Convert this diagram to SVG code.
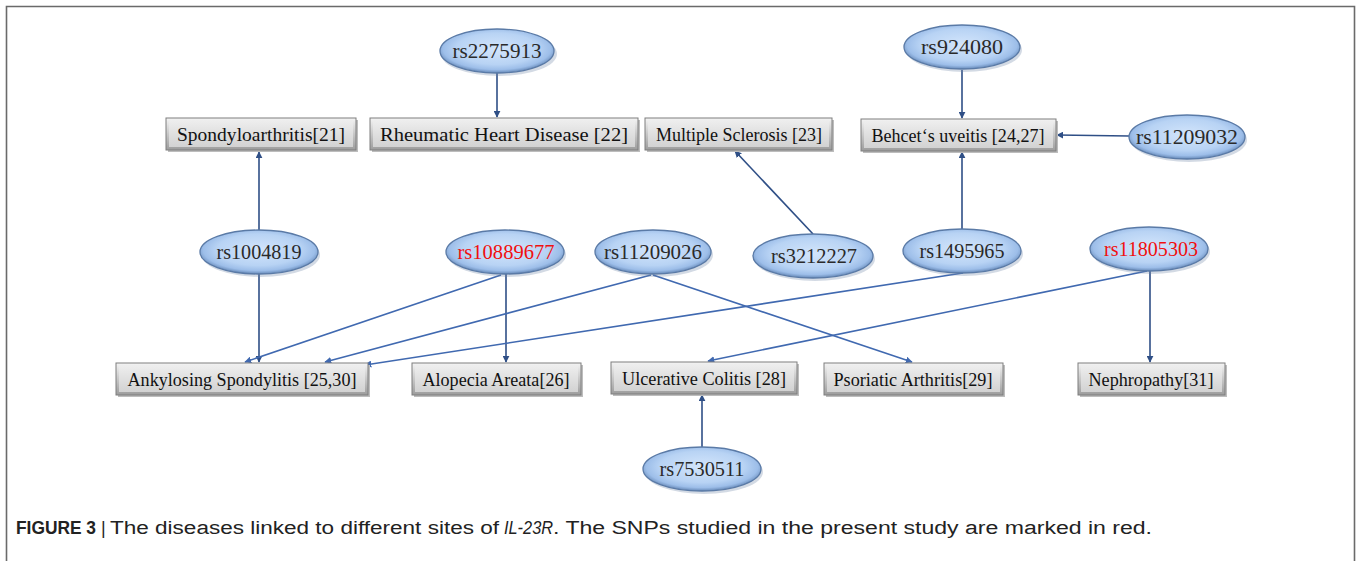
<svg xmlns="http://www.w3.org/2000/svg" width="1357" height="561" viewBox="0 0 1357 561">
<defs>
<radialGradient id="eg" cx="50%" cy="45%" r="55%">
<stop offset="0" stop-color="#d3e5fb"/>
<stop offset="0.65" stop-color="#b8d3f4"/>
<stop offset="0.86" stop-color="#9dbee9"/>
<stop offset="1" stop-color="#6689b8"/>
</radialGradient>
<linearGradient id="bo" x1="0" y1="0" x2="0" y2="1">
<stop offset="0" stop-color="#f4f4f4"/>
<stop offset="1" stop-color="#9c9c9c"/>
</linearGradient>
<linearGradient id="bi" x1="0" y1="0" x2="0" y2="1">
<stop offset="0" stop-color="#ededed"/>
<stop offset="1" stop-color="#d2d2d2"/>
</linearGradient>
<marker id="ah" viewBox="0 0 10 10" refX="9" refY="5" markerWidth="7" markerHeight="7" markerUnits="userSpaceOnUse" orient="auto">
<path d="M0,0 L10,5 L0,10 z" fill="#2f4f86"/>
</marker>
<marker id="ah2" viewBox="0 0 10 10" refX="9" refY="5" markerWidth="7" markerHeight="7" markerUnits="userSpaceOnUse" orient="auto">
<path d="M0,0 L10,5 L0,10 z" fill="#4069b0"/>
</marker>
</defs>
<style>
.snp ellipse.sh{fill:#6d86a6;opacity:0.3}
.snp ellipse.m{fill:url(#eg);stroke:#5a7aa6;stroke-width:1.3}
.snp text{font-family:"Liberation Serif","Times New Roman",serif;font-size:21px;fill:#2a2a2a;text-anchor:middle}
.snp text.red{fill:#f01010}
.dis rect.o{fill:url(#bo);stroke:#7e7e7e;stroke-width:1}
.dis rect.i{fill:url(#bi);stroke:none}
.dis rect.sh{fill:#bdbdbd}
.dis text{font-family:"Liberation Serif","Times New Roman",serif;font-size:19px;fill:#111;text-anchor:middle}
.v{stroke:#2f4f86;stroke-width:1.6;fill:none;marker-end:url(#ah)}
.s{stroke:#4069b0;stroke-width:1.6;fill:none;marker-end:url(#ah2)}
.cap{font-family:"Liberation Sans",Arial,sans-serif;font-size:18px;fill:#222}
</style>
<rect x="0" y="0" width="1357" height="561" fill="#ffffff"/>
<path d="M6.5,561 V6.5 H1354.5 V561" fill="none" stroke="#6a6a6a" stroke-width="1.6"/>

<g id="connectors">
<line class="v" x1="497" y1="73" x2="497" y2="117"/>
<line class="v" x1="962" y1="70" x2="962" y2="118"/>
<line class="v" x1="1129" y1="136" x2="1057" y2="135"/>
<line class="v" x1="259" y1="230" x2="259" y2="152"/>
<line class="v" x1="259" y1="274" x2="259" y2="362"/>
<line class="v" x1="506" y1="274" x2="506" y2="362"/>
<line class="s" x1="501" y1="275" x2="245" y2="362"/>
<line class="s" x1="651" y1="275" x2="325" y2="362"/>
<line class="s" x1="653" y1="275" x2="912" y2="362"/>
<line class="v" x1="813" y1="234" x2="735" y2="151"/>
<line class="v" x1="962" y1="229" x2="962" y2="152"/>
<line class="s" x1="963" y1="273" x2="365" y2="365"/>
<line class="s" x1="1147" y1="271" x2="708" y2="361"/>
<line class="v" x1="1150" y1="271" x2="1150" y2="362"/>
<line class="v" x1="702" y1="447" x2="702" y2="395"/>
</g>

<g id="rs2275913" class="snp"><ellipse class="sh" cx="499" cy="54" rx="58" ry="22"/><ellipse class="m" cx="497" cy="51" rx="57" ry="22"/><text x="497" y="58" textLength="89" lengthAdjust="spacingAndGlyphs">rs2275913</text></g>
<g id="rs924080" class="snp"><ellipse class="sh" cx="964" cy="50" rx="58" ry="22"/><ellipse class="m" cx="962" cy="47" rx="58" ry="22"/><text x="962" y="54" textLength="82" lengthAdjust="spacingAndGlyphs">rs924080</text></g>
<g id="rs11209032" class="snp"><ellipse class="sh" cx="1189" cy="140" rx="58" ry="22"/><ellipse class="m" cx="1187" cy="137" rx="58" ry="22"/><text x="1187" y="144" textLength="102" lengthAdjust="spacingAndGlyphs">rs11209032</text></g>
<g id="rs1004819" class="snp"><ellipse class="sh" cx="261" cy="255" rx="59" ry="22"/><ellipse class="m" cx="259" cy="252" rx="59" ry="22"/><text x="259" y="259" textLength="85" lengthAdjust="spacingAndGlyphs">rs1004819</text></g>
<g id="rs10889677" class="snp"><ellipse class="sh" cx="507" cy="255" rx="59" ry="22"/><ellipse class="m" cx="505" cy="252" rx="59" ry="22"/><text class="red" x="506" y="259" textLength="97" lengthAdjust="spacingAndGlyphs">rs10889677</text></g>
<g id="rs11209026" class="snp"><ellipse class="sh" cx="655" cy="255" rx="58" ry="22"/><ellipse class="m" cx="653" cy="252" rx="58" ry="22"/><text x="653" y="259" textLength="98" lengthAdjust="spacingAndGlyphs">rs11209026</text></g>
<g id="rs3212227" class="snp"><ellipse class="sh" cx="815" cy="259" rx="60" ry="22"/><ellipse class="m" cx="813" cy="256" rx="60" ry="22"/><text x="814" y="263" textLength="86" lengthAdjust="spacingAndGlyphs">rs3212227</text></g>
<g id="rs1495965" class="snp"><ellipse class="sh" cx="964" cy="254" rx="59" ry="22"/><ellipse class="m" cx="962" cy="251" rx="59" ry="22"/><text x="962" y="258" textLength="85" lengthAdjust="spacingAndGlyphs">rs1495965</text></g>
<g id="rs11805303" class="snp"><ellipse class="sh" cx="1151" cy="252" rx="59" ry="22"/><ellipse class="m" cx="1149" cy="249" rx="59" ry="22"/><text class="red" x="1151" y="256" textLength="94" lengthAdjust="spacingAndGlyphs">rs11805303</text></g>
<g id="rs7530511" class="snp"><ellipse class="sh" cx="704" cy="472" rx="59" ry="22"/><ellipse class="m" cx="702" cy="469" rx="59" ry="22"/><text x="702" y="476" textLength="85" lengthAdjust="spacingAndGlyphs">rs7530511</text></g>

<g id="spondyloarthritis" class="dis"><rect class="sh" x="168" y="120" width="190" height="32"/><rect class="o" x="166" y="118" width="190" height="32"/><rect class="i" x="169" y="121" width="184" height="26"/><text x="261" y="141" textLength="168" lengthAdjust="spacingAndGlyphs">Spondyloarthritis[21]</text></g>
<g id="rheumatic" class="dis"><rect class="sh" x="372" y="120" width="268" height="32"/><rect class="o" x="370" y="118" width="268" height="32"/><rect class="i" x="373" y="121" width="262" height="26"/><text x="504" y="141" textLength="248" lengthAdjust="spacingAndGlyphs">Rheumatic Heart Disease [22]</text></g>
<g id="ms" class="dis"><rect class="sh" x="647" y="120" width="187" height="32"/><rect class="o" x="645" y="118" width="187" height="32"/><rect class="i" x="648" y="121" width="181" height="26"/><text x="739" y="141" textLength="166" lengthAdjust="spacingAndGlyphs">Multiple Sclerosis [23]</text></g>
<g id="behcet" class="dis"><rect class="sh" x="863" y="121" width="195" height="32"/><rect class="o" x="861" y="119" width="195" height="32"/><rect class="i" x="864" y="122" width="189" height="26"/><text x="958" y="142" textLength="173" lengthAdjust="spacingAndGlyphs">Behcet‘s uveitis [24,27]</text></g>
<g id="ankylosing" class="dis"><rect class="sh" x="118" y="365" width="252" height="32"/><rect class="o" x="116" y="363" width="252" height="32"/><rect class="i" x="119" y="366" width="246" height="26"/><text x="242" y="386" textLength="229" lengthAdjust="spacingAndGlyphs">Ankylosing Spondylitis [25,30]</text></g>
<g id="alopecia" class="dis"><rect class="sh" x="414" y="365" width="169" height="32"/><rect class="o" x="412" y="363" width="169" height="32"/><rect class="i" x="415" y="366" width="163" height="26"/><text x="496" y="386" textLength="147" lengthAdjust="spacingAndGlyphs">Alopecia Areata[26]</text></g>
<g id="ulcerative" class="dis"><rect class="sh" x="613" y="364" width="186" height="32"/><rect class="o" x="611" y="362" width="186" height="32"/><rect class="i" x="614" y="365" width="180" height="26"/><text x="704" y="385" textLength="164" lengthAdjust="spacingAndGlyphs">Ulcerative Colitis [28]</text></g>
<g id="psoriatic" class="dis"><rect class="sh" x="826" y="365" width="179" height="32"/><rect class="o" x="824" y="363" width="179" height="32"/><rect class="i" x="827" y="366" width="173" height="26"/><text x="913" y="386" textLength="159" lengthAdjust="spacingAndGlyphs">Psoriatic Arthritis[29]</text></g>
<g id="nephropathy" class="dis"><rect class="sh" x="1080" y="365" width="147" height="32"/><rect class="o" x="1078" y="363" width="147" height="32"/><rect class="i" x="1081" y="366" width="141" height="26"/><text x="1151" y="386" textLength="125" lengthAdjust="spacingAndGlyphs">Nephropathy[31]</text></g>

<text class="cap" y="534"><tspan x="16" font-weight="bold" textLength="80" lengthAdjust="spacingAndGlyphs">FIGURE 3</tspan><tspan x="101">|</tspan><tspan x="110" textLength="389" lengthAdjust="spacingAndGlyphs">The diseases linked to different sites of</tspan><tspan x="504" font-style="italic" textLength="49" lengthAdjust="spacingAndGlyphs">IL-23R</tspan><tspan x="553" textLength="599" lengthAdjust="spacingAndGlyphs">. The SNPs studied in the present study are marked in red.</tspan></text>
</svg>
